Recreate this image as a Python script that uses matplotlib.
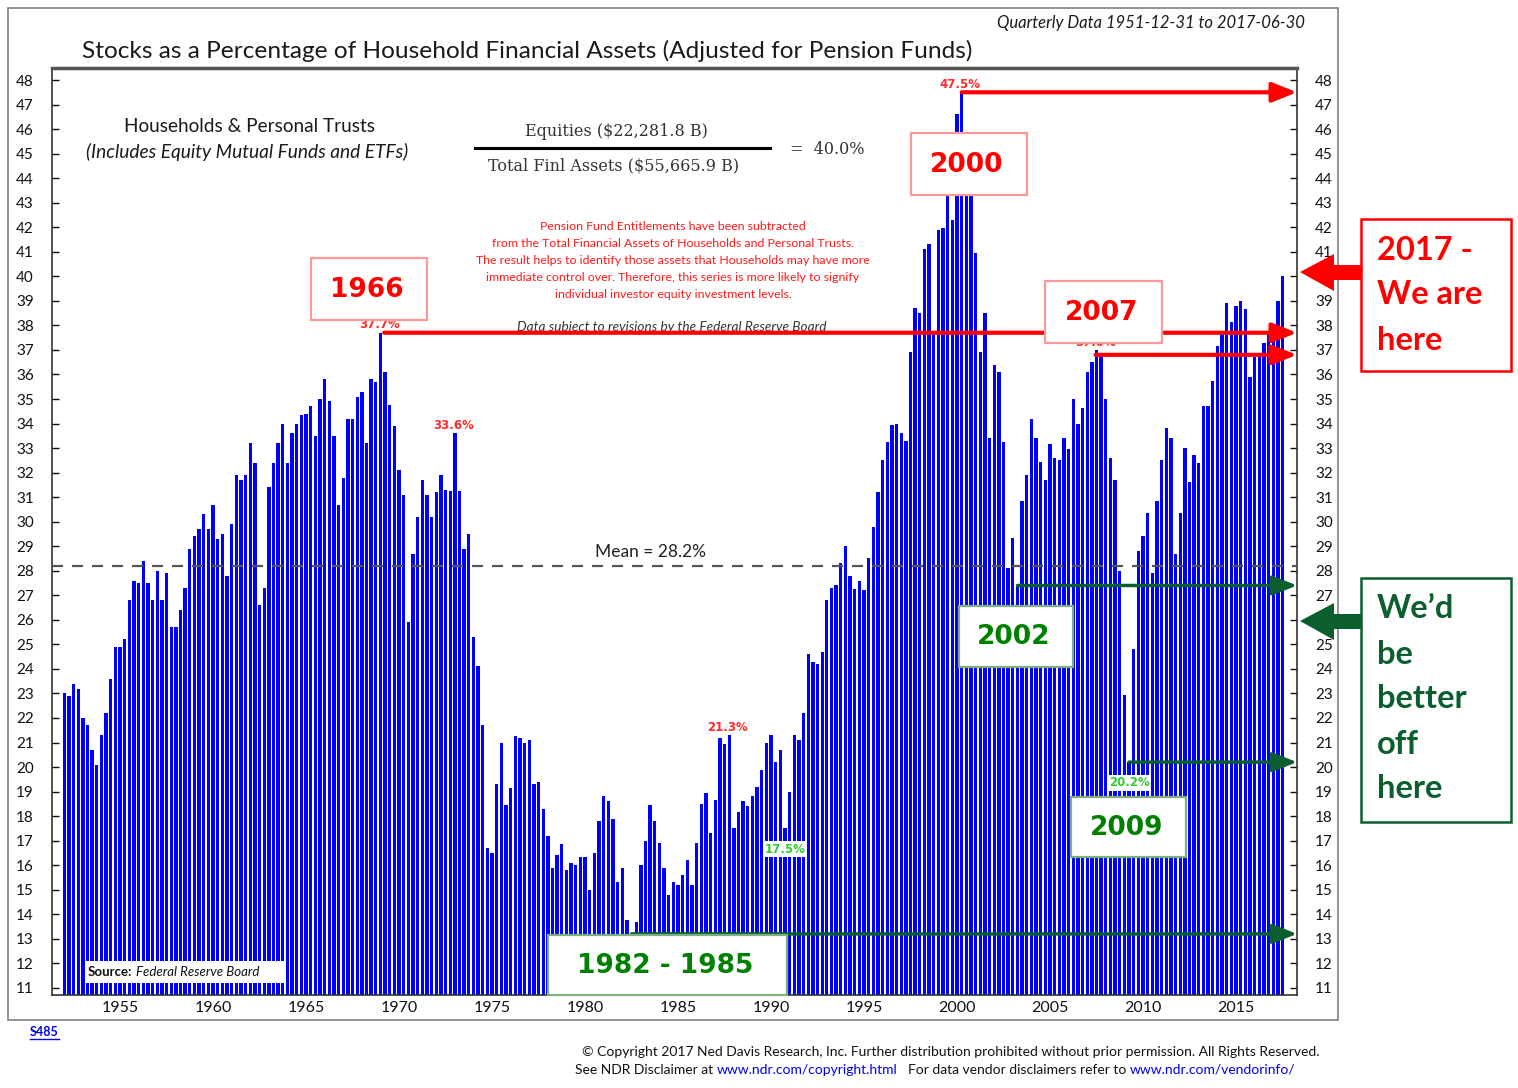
import matplotlib
matplotlib.use("Agg")
import matplotlib.pyplot as plt
from matplotlib.patches import Rectangle, Polygon
from matplotlib.lines import Line2D

# ---------------- data (quarterly, starting 1951-12-31) ----------------
start_year, start_quarter = 1951, 4
vals_1950s = [23.0,
              22.9, 23.4, 23.2, 22.0,
              21.7, 20.7, 20.1, 21.3,
              22.2, 23.6, 24.9, 24.9,
              25.2, 26.8, 27.6, 27.5,
              28.4, 27.5, 26.8, 28.0,
              26.8, 27.9, 25.7, 25.7,
              26.4, 27.3, 28.9, 29.4,
              29.7, 30.3, 29.7, 30.7]
vals_1960s = [29.3, 29.5, 27.8, 29.9,
              31.9, 31.7, 31.9, 33.2,
              32.4, 26.6, 27.3, 31.4,
              32.4, 33.2, 34.0, 32.4,
              33.6, 34.0, 34.35, 34.4,
              34.7, 33.5, 35.0, 35.8,
              34.9, 33.5, 30.7, 31.8,
              34.2, 34.2, 35.1, 35.3,
              33.2, 35.8, 35.7, 37.7,
              36.1, 34.75, 33.9, 32.1]
vals_1970s = [31.1, 25.9, 28.7, 30.2,
              31.7, 31.1, 30.2, 31.2,
              31.9, 31.3, 31.25, 33.6,
              31.25, 28.9, 29.5, 25.3,
              24.1, 21.7, 16.7, 16.5,
              19.3, 21.0, 18.45, 19.15,
              21.25, 21.2, 21.0, 21.1,
              19.3, 19.4, 18.3, 17.2,
              15.9, 16.4, 16.85, 15.8,
              16.1, 16.0, 16.35, 16.35]
vals_1980s = [15.0, 16.5, 17.8, 18.8,
              18.6, 17.9, 15.3, 15.9,
              13.75, 13.2, 13.7, 16.0,
              17.0, 18.45, 17.8, 16.9,
              15.9, 14.8, 15.3, 15.2,
              15.6, 16.2, 15.2, 16.9,
              18.5, 18.95, 17.3, 18.65,
              21.2, 20.95, 21.3, 17.5,
              18.15, 18.6, 18.4, 18.8,
              19.2, 19.9, 21.0, 21.3]
vals_1990s = [20.2, 20.7, 17.5, 19.0,
              21.3, 21.1, 22.2, 24.6,
              24.3, 24.2, 24.7, 26.8,
              27.3, 27.4, 28.3, 29.0,
              27.8, 27.25, 27.6, 27.2,
              28.5, 29.8, 31.2, 32.5,
              33.25, 33.95, 34.0, 33.6,
              33.3, 36.9, 38.7, 38.5,
              41.1, 41.3, 37.7, 41.9,
              41.95, 43.4, 42.3, 46.6]
vals_2000s = [47.5, 45.0, 44.5, 40.95,
              36.9, 38.5, 33.4, 36.4,
              36.1, 33.25, 28.1, 29.35,
              27.4, 30.85, 31.9, 34.2,
              33.4, 32.45, 31.7, 33.15,
              32.6, 32.5, 33.4, 32.95,
              35.0, 34.0, 34.65, 36.1,
              36.5, 37.0, 36.8, 35.0,
              32.6, 31.7, 28.0, 22.95,
              20.2, 24.8, 28.8, 29.4]
vals_2010s = [30.35, 27.9, 30.85, 32.5,
              33.8, 33.4, 28.7, 30.35,
              33.0, 31.6, 32.7, 32.4,
              34.7, 34.7, 35.75, 37.15,
              37.7, 38.9, 38.15, 38.8,
              39.0, 38.65, 35.9, 36.7,
              36.7, 37.3, 37.7, 37.7,
              39.0, 40.0]
mean_value = 28.2
x_tick_years = [1955, 1960, 1965, 1970, 1975, 1980, 1985, 1990, 1995, 2000, 2005, 2010, 2015]
y_ticks = list(range(11, 49))

peak_labels = [(1968, 4, "37.7%"), (1972, 4, "33.6%"), (2000, 1, "47.5%"),
               (1987, 3, "21.3%"), (2007, 2, "37.0%")]
low_labels = [(1990, 3, "17.5%"), (2009, 1, "20.2%")]
red_arrows = [(1968, 4), (2000, 1), (2007, 3)]
green_arrows = [(1982, 2), (2003, 1), (2009, 1)]

values = vals_1950s + vals_1960s + vals_1970s + vals_1980s + vals_1990s + vals_2000s + vals_2010s


def q_index(year, q):
    return (year - start_year) * 4 + (q - start_quarter)


def q_x(i):
    k = start_quarter - 1 + i
    return start_year + k // 4 + (k % 4 + 1) * 0.25


xs = [q_x(i) for i in range(len(values))]

# ---------------- figure ----------------
W, H = 1518, 1088
fig = plt.figure(figsize=(W / 100, H / 100), dpi=100)
fig.patch.set_facecolor("white")
SANS = ["Lato", "DejaVu Sans"]
plt.rcParams["font.family"] = SANS


def ftext(x, y, s, **kw):
    return fig.text(x / W, 1 - y / H, s, **kw)


def fbox(x0, y0, x1, y1, ec, lw=1.5, fc="white", z=6):
    r = Rectangle((x0 / W, 1 - y1 / H), (x1 - x0) / W, (y1 - y0) / H,
                  transform=fig.transFigure, fc=fc, ec=ec, lw=lw, zorder=z)
    fig.add_artist(r)


def fpoly(pts, color, z=6):
    p = Polygon([(x / W, 1 - y / H) for x, y in pts], closed=True,
                transform=fig.transFigure, fc=color, ec="none", zorder=z)
    fig.add_artist(p)


# outer frame
fbox(8, 8, 1338, 1020, ec="#808080", lw=1.2, fc="none", z=1)

ax = fig.add_axes([52 / W, 1 - 995 / H, (1297 - 52) / W, (995 - 68) / H])
ax.set_facecolor("white")
ax.bar(xs, values, width=0.18, color="#0000FF", linewidth=0, zorder=2)
ax.set_xlim(1951.34, 2018.28)
ax.set_ylim(10.71, 48.49)

ax.set_yticks(y_ticks)
ax.set_yticklabels([str(v) for v in y_ticks])
ax.set_xticks(x_tick_years)
ax.set_xticklabels([str(v) for v in x_tick_years])
ax.tick_params(axis="y", direction="in", length=5, width=1, left=True, right=True,
               labelleft=True, labelright=True, labelsize=11, pad=13, colors="#111111")
ax.tick_params(axis="x", direction="in", length=4, width=1, labelsize=11.5, pad=4,
               colors="#111111")
for s in ["left", "right", "bottom"]:
    ax.spines[s].set_color("#333333")
    ax.spines[s].set_linewidth(1.2)
ax.spines["top"].set_color("#555555")
ax.spines["top"].set_linewidth(2.5)

# mean line
ax.axhline(mean_value, color="#555555", lw=1.6, dashes=(5, 4), zorder=3)
ax.text(1983.5, mean_value + 0.25, "Mean = %.1f%%" % mean_value, ha="center", va="bottom",
        fontsize=12.5, color="#222222", zorder=3)

# arrows
xr = ax.get_xlim()[1]
for (yy, qq) in red_arrows:
    i = q_index(yy, qq)
    x_start = xs[i] + 0.2 if (yy, qq) == (1968, 4) else xs[i] - 0.3 if (yy, qq) == (2007, 3) else xs[i]
    ax.annotate("", xy=(xr, values[i]), xytext=(x_start, values[i]),
                arrowprops=dict(arrowstyle="-|>,head_length=0.75,head_width=0.3",
                                lw=3, color="#FF0000", shrinkA=0, shrinkB=0,
                                mutation_scale=20),
                annotation_clip=False, zorder=4)
for (yy, qq) in green_arrows:
    i = q_index(yy, qq)
    ax.annotate("", xy=(xr, values[i]), xytext=(xs[i], values[i]),
                arrowprops=dict(arrowstyle="-|>,head_length=0.75,head_width=0.3",
                                lw=2.5, color="#0B5E2E", shrinkA=0, shrinkB=0,
                                mutation_scale=20),
                annotation_clip=False, zorder=4)

# peak / low labels
for (yy, qq, lab) in peak_labels:
    i = q_index(yy, qq)
    ax.annotate(lab, xy=(xs[i], values[i]), xytext=(-1, 1), textcoords="offset points",
                ha="center", va="bottom", fontsize=8.5, fontweight="bold",
                color="#FF2A2A", family=["DejaVu Sans"], zorder=3.5)
for (yy, qq, lab) in low_labels:
    i = q_index(yy, qq)
    ax.annotate(lab, xy=(xs[i], values[i]), xytext=(0, -15), textcoords="offset points",
                ha="center", va="center", fontsize=8.5, fontweight="bold",
                color="#33CC33", family=["DejaVu Sans"], zorder=5,
                bbox=dict(boxstyle="square,pad=0.15", fc="white", ec="none"))

# ---------------- header texts ----------------
ftext(82, 51, "Stocks as a Percentage of Household Financial Assets (Adjusted for Pension Funds)",
      ha="left", va="center", fontsize=17.6, color="#1a1a1a")
ftext(1305, 23, "Quarterly Data 1951-12-31 to 2017-06-30", ha="right", va="center",
      fontsize=12, style="italic", color="#1a1a1a")

ftext(250, 126, "Households & Personal Trusts", ha="center", va="center", fontsize=13.7,
      color="#1a1a1a")
ftext(247, 152, "(Includes Equity Mutual Funds and ETFs)", ha="center", va="center",
      fontsize=13.8, style="italic", color="#1a1a1a")

ftext(616, 132, "Equities ($22,281.8 B)", ha="center", va="center", fontsize=11.5,
      family=["DejaVu Serif"], color="#333333")
ftext(614, 166, "Total Finl Assets ($55,665.9 B)", ha="center", va="center", fontsize=11.5,
      family=["DejaVu Serif"], color="#333333")
fig.add_artist(Line2D([475 / W, 770 / W], [1 - 148 / H, 1 - 148 / H], color="black",
                      lw=2.2, transform=fig.transFigure, zorder=6))
ftext(790, 149, "=  40.0%", ha="left", va="center", fontsize=11.5,
      family=["DejaVu Serif"], color="#333333")

red_lines = ["Pension Fund Entitlements have been subtracted",
             "from the Total Financial Assets of Households and Personal Trusts.",
             "The result helps to identify those assets that Households may have more",
             "immediate control over. Therefore, this series is more likely to signify",
             "individual investor equity investment levels."]
for k, line in enumerate(red_lines):
    ftext(673, 227 + k * 16.8, line, ha="center", va="center", fontsize=8.9,
          color="#FF1A1A")
ax.text(672 / W, 1 - 327 / H, "Data subject to revisions by the Federal Reserve Board",
        transform=fig.transFigure, ha="center", va="center", fontsize=9.8,
        style="italic", color="#333333", zorder=3)

# ---------------- year boxes ----------------
red_edge = "#FF9999"
green_edge = "#7FAF7F"
boxes = [(311, 258, 427, 320, "1966", red_edge, "#FF0000"),
         (911, 133, 1027, 195, "2000", red_edge, "#FF0000"),
         (1045, 281, 1162, 343, "2007", red_edge, "#FF0000"),
         (959, 606, 1073, 667, "2002", green_edge, "#008000"),
         (1071, 797, 1186, 857, "2009", green_edge, "#008000"),
         (548, 935, 787, 995, "1982 - 1985", green_edge, "#008000")]
for x0, y0, x1, y1, lab, ec, tc in boxes:
    fbox(x0, y0, x1, y1, ec=ec, lw=1.6)
    ftext((x0 + x1) / 2 - 2, (y0 + y1) / 2 + 1, lab, ha="center", va="center",
          fontsize=19, fontweight="bold", color=tc, family=["DejaVu Sans"], zorder=7)

# right-hand call-out boxes
fbox(1361, 219, 1511, 371, ec="#FF0000", lw=1.8)
for k, line in enumerate(["2017 -", "We are", "here"]):
    ftext(1377, 250 + k * 45, line, ha="left", va="center", fontsize=23.5,
          fontweight="bold", color="#FF0000", zorder=7)
fpoly([(1300, 272), (1334, 254), (1334, 265), (1361, 265), (1361, 280),
       (1334, 280), (1334, 291)], "#FF0000")

fbox(1361, 578, 1511, 822, ec="#0B5E2E", lw=1.8)
for k, line in enumerate(["We\u2019d", "be", "better", "off", "here"]):
    ftext(1377, 609 + k * 45, line, ha="left", va="center", fontsize=23.5,
          fontweight="bold", color="#0B5E2E", zorder=7)
fpoly([(1300, 621), (1334, 603), (1334, 614), (1361, 614), (1361, 629),
       (1334, 629), (1334, 640)], "#0B5E2E")

# ---------------- source / footer ----------------
renderer = fig.canvas.get_renderer()


def seq_text(x_px, y_px, parts, fontsize):
    t0 = ftext(0, 0, "x x", fontsize=fontsize)
    t1 = ftext(0, 0, "xx", fontsize=fontsize)
    sp = t0.get_window_extent(renderer).width - t1.get_window_extent(renderer).width
    t0.remove()
    t1.remove()
    x = x_px
    for s, gap, style in parts:
        x += gap * sp
        t = ftext(x, y_px, s, ha="left", va="center", fontsize=fontsize, zorder=7, **style)
        x += t.get_window_extent(renderer).width


fbox(85, 961, 286, 983, ec="none", fc="white", z=6)
seq_text(88, 972, [("Source:", 0, dict(fontweight="bold", color="#111111")),
                   ("Federal Reserve Board", 1, dict(style="italic", color="#111111"))], 9.5)

s485 = ftext(30, 1032, "S485", ha="left", va="center", fontsize=9, fontweight="bold",
             color="#0000EE")
bb = s485.get_window_extent(renderer)
fig.add_artist(Line2D([bb.x0 / W, bb.x1 / W], [(bb.y0 - 1) / H, (bb.y0 - 1) / H],
                      color="#0000EE", lw=1, transform=fig.transFigure))

ftext(1320, 1052, "\u00a9 Copyright 2017 Ned Davis Research, Inc. Further distribution prohibited "
      "without prior permission. All Rights Reserved.", ha="right", va="center",
      fontsize=10, color="#111111")
seq_text(575, 1070, [("See NDR Disclaimer at", 0, dict(color="#111111")),
                     ("www.ndr.com/copyright.html", 1, dict(color="#0000EE")),
                     ("For data vendor disclaimers refer to", 3, dict(color="#111111")),
                     ("www.ndr.com/vendorinfo/", 1, dict(color="#0000EE"))], 10)

fig.savefig("out.png", dpi=100, facecolor="white")
